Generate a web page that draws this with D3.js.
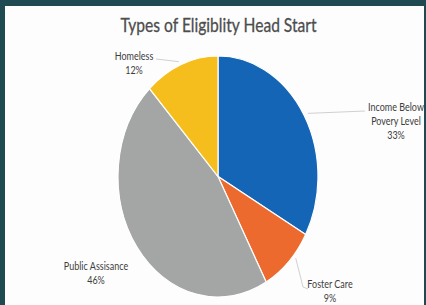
<!DOCTYPE html>
<html><head><meta charset="utf-8">
<script src="https://cdn.jsdelivr.net/npm/d3@7"></script>
<style>html,body{margin:0;padding:0;background:#1f4a52;}svg{display:block;}</style>
</head><body>
<script>
const categories = ["Income Below Povery Level", "Foster Care", "Public Assisance", "Homeless"];
const values = [33, 9, 46, 12];
const labelLines = [["Income Below", "Povery Level", "33%"], ["Foster Care", "9%"], ["Public Assisance", "46%"], ["Homeless", "12%"]];
const colors = ["#1565b6", "#ec6a2d", "#a4a6a5", "#f6be1d"];
const title = "Types of Eligiblity Head Start";

const W = 426, H = 305;
const svg = d3.select("body").append("svg").attr("width", W).attr("height", H);
svg.append("rect").attr("width", W).attr("height", H).attr("fill", "#1f4a52");
svg.append("rect").attr("x", 5).attr("y", 6).attr("width", 419).attr("height", 299).attr("fill", "#fdfdfd");

const sy = 1.205;
const cx = 218, cy = 176.5, r = 100;

svg.append("text").attr("transform", `translate(218.5,32) scale(1,${sy})`)
  .attr("text-anchor", "middle").attr("font-family", "Lato, 'Open Sans', sans-serif")
  .attr("font-size", 15.6).attr("fill", "#4d4d4d").attr("stroke", "#4d4d4d").attr("stroke-width", 0.25)
  .text(title);

const pie = d3.pie().sort(null).value(d => d)(values);
const arc = d3.arc().innerRadius(0).outerRadius(r);
const g = svg.append("g").attr("transform", `translate(${cx},${cy}) scale(1,${sy})`);
g.selectAll("path").data(pie).join("path")
  .attr("d", arc).attr("fill", (d, i) => colors[i])
  .attr("stroke", "#fff").attr("stroke-width", 1.2).attr("vector-effect", "non-scaling-stroke");

// label block centers in page coordinates
const labelPos = [[396, 108], [330, 285], [96, 267], [134, 57]];
const lineGap = 14;
labelLines.forEach((lines, i) => {
  const t = svg.append("g").attr("transform", `translate(${labelPos[i][0]},${labelPos[i][1]})`);
  lines.forEach((s, j) => {
    t.append("text").attr("transform", `translate(0,${j * lineGap + 3}) scale(1,${sy})`)
      .attr("text-anchor", "middle").attr("font-family", "Lato, 'Open Sans', sans-serif")
      .attr("font-size", 9).attr("fill", "#3d3d3d").text(s);
  });
});

// leader lines from just outside the slice edge to the label
function edgePt(angleFrac, k) {
  const a = angleFrac * 2 * Math.PI;
  return [cx + r * k * Math.sin(a), cy - r * k * Math.cos(a) * sy];
}
const leader = d3.line().curve(d3.curveLinear);
const leaders = [
  [edgePt(0.166, 1.04), [365, 111]],
  [edgePt(0.364, 1.03), [303, 287], [308, 289]],
  [edgePt(0.938, 1.03), [156, 59]]
];
leaders.forEach(pts => {
  svg.append("path").attr("d", leader(pts)).attr("fill", "none")
    .attr("stroke", "#c4c4c4").attr("stroke-width", 0.8);
});
</script>
</body></html>
